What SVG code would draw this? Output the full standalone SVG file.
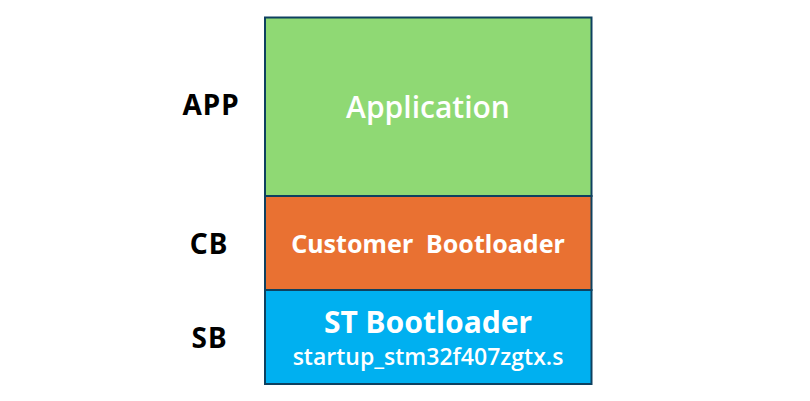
<svg xmlns="http://www.w3.org/2000/svg" width="810" height="401" viewBox="0 0 810 401">
<style>
.blk{stroke:#0E4160;stroke-width:2}
.in{fill:#ffffff;font-family:"Noto Sans","Liberation Sans",sans-serif;text-anchor:middle}
.med{fill:#ffffff;font-family:"Open Sans","Noto Sans",sans-serif;font-weight:600;text-anchor:middle}
.lbl{fill:#000000;font-family:"Noto Sans","Liberation Sans",sans-serif;font-weight:700;text-anchor:middle;font-size:28px}
</style>
<rect width="810" height="401" fill="#ffffff"/>
<g id="app">
<rect class="blk" x="265" y="17.5" width="326.5" height="178.5" fill="#8FD974"/>
<text class="med" x="428" y="118" font-size="30">Application</text>
</g>
<g id="cb">
<rect class="blk" x="265" y="196" width="326.5" height="94" fill="#E97132"/>
<text class="in" x="428" y="253" font-size="25" font-weight="700" xml:space="preserve">Customer  Bootloader</text>
</g>
<g id="sb">
<rect class="blk" x="265" y="290" width="326.5" height="94" fill="#00B0F0"/>
<text class="in" x="428" y="333" font-size="30" font-weight="700">ST Bootloader</text>
<text class="med" x="428" y="365" font-size="23">startup_stm32f407zgtx.s</text>
</g>
<g id="labels">
<text class="lbl" x="211" y="114.5" letter-spacing="1">APP</text>
<text class="lbl" x="209" y="253.5" letter-spacing="1">CB</text>
<text class="lbl" x="209.5" y="347.7" letter-spacing="1">SB</text>
</g>
<g id="connectors"></g>
</svg>
